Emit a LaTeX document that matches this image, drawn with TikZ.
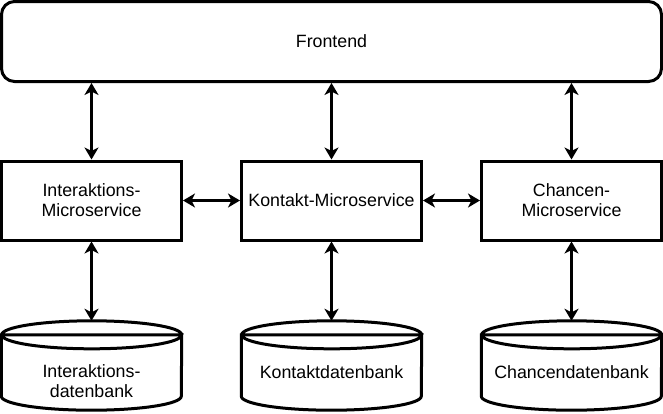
\documentclass[tikz,border=0pt]{standalone}
\usepackage{fontspec}
\setmainfont{Liberation Sans}
\usetikzlibrary{arrows.meta}
\tikzset{
  x=1pt, y=1pt,
  every node/.style={font=\fontsize{17.8}{20}\selectfont, align=center, inner sep=0pt},
  frontbox/.style={draw, line width=3pt, rounded corners=13pt, minimum width=660pt, minimum height=80pt},
  svcbox/.style={draw, line width=3pt, minimum width=180pt, minimum height=79pt},
  dbbody/.style={minimum width=180pt, minimum height=75pt},
  link/.style={line width=3pt, {Stealth[length=12pt,width=14pt,inset=3.5pt]}-{Stealth[length=12pt,width=14pt,inset=3.5pt]}},
  dbline/.style={line width=3pt}
}
\newcommand{\dbshape}[1]{%
  \draw[dbline,fill=white] (#1.north west) -- ([yshift=14pt]#1.south west)
     arc[start angle=180,end angle=360,x radius=90pt,y radius=14pt]
     -- (#1.north east) arc[start angle=0,end angle=360,x radius=90pt,y radius=14pt] -- cycle;
}
\begin{document}
\begin{tikzpicture}
\useasboundingbox (0,0) rectangle (663,-413);
\node[frontbox] (fe) at (331.5,-41.5) {Frontend};
\node[svcbox] (ims) at (91.5,-200.5) {Interaktions-\\Microservice};
\node[svcbox] (kms) at (331.5,-200.5) {Kontakt-Microservice};
\node[svcbox] (cms) at (571.5,-200.5) {Chancen-\\Microservice};
\node[dbbody] (idb) at (91.5,-372.5) {};
\node[dbbody] (kdb) at (331.5,-372.5) {};
\node[dbbody] (cdb) at (571.5,-372.5) {};
\dbshape{idb}
\dbshape{kdb}
\dbshape{cdb}
\node (idbtext) at ([yshift=-8.5pt]idb.center) {Interaktions-\\datenbank};
\node (kdbtext) at (kdb.center) {Kontaktdatenbank};
\node (cdbtext) at (cdb.center) {Chancendatenbank};
\draw[link] (fe.south -| ims) -- (ims.north);
\draw[link] (fe.south -| kms) -- (kms.north);
\draw[link] (fe.south -| cms) -- (cms.north);
\draw[link] (ims.east) -- (kms.west);
\draw[link] (kms.east) -- (cms.west);
\draw[link] (ims.south) -- ([yshift=14pt]idb.north);
\draw[link] (kms.south) -- ([yshift=14pt]kdb.north);
\draw[link] (cms.south) -- ([yshift=14pt]cdb.north);
\end{tikzpicture}
\end{document}
